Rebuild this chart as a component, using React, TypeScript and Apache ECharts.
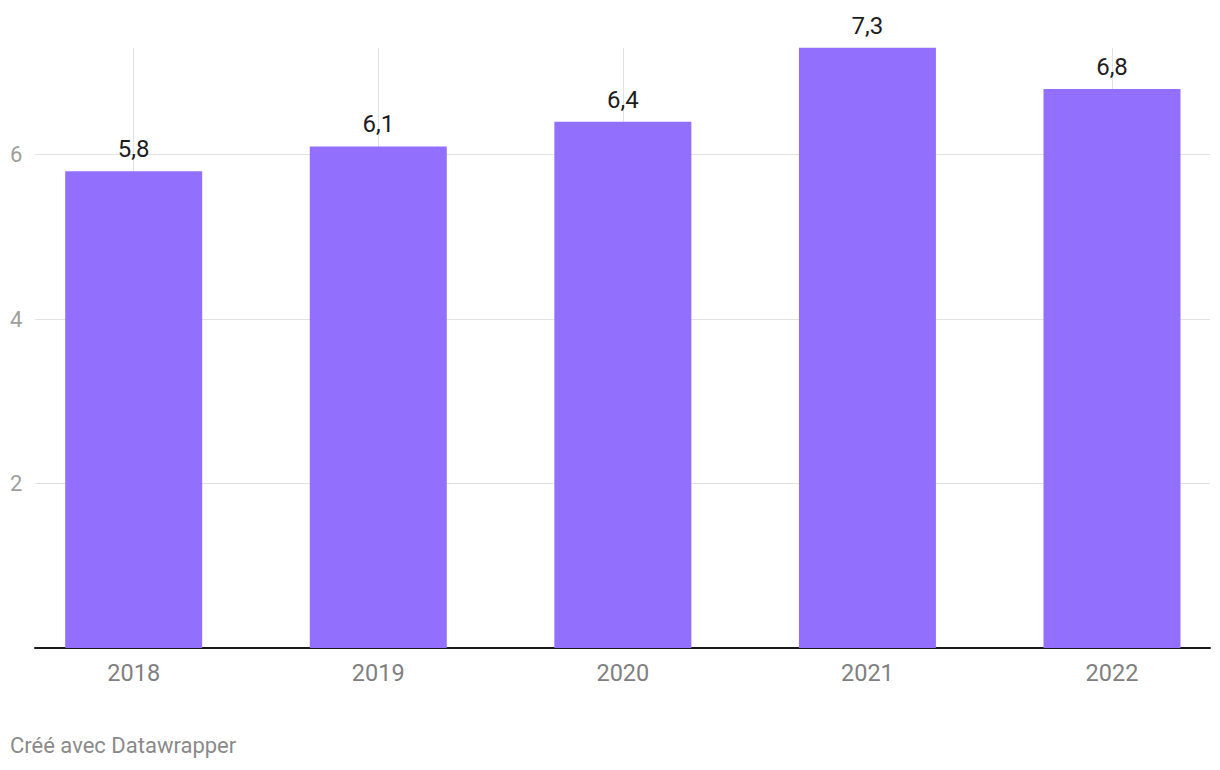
import React, { useEffect, useRef } from "react";
import * as echarts from "echarts";

const categories = ["2018", "2019", "2020", "2021", "2022"];
const values = [5.8, 6.1, 6.4, 7.3, 6.8];
const yTicks = [2, 4, 6];
const footer = "Créé avec Datawrapper";

const FONT = "Roboto, 'Noto Sans', sans-serif";

export default function App() {
  const ref = useRef<HTMLDivElement>(null);
  useEffect(() => {
    if (!ref.current) return;
    const chart = echarts.init(ref.current, undefined, { renderer: "svg" });
    const yMax = 7.3;
    const bottom = 122;
    const top0 = 47.8;
    chart.setOption({
      animation: false,
      backgroundColor: "#ffffff",
      textStyle: { fontFamily: FONT },
      grid: [
        { left: 133.7, right: 1220 - 1112, top: top0, bottom, containLabel: false },
        { left: 35, right: 10, top: top0, bottom, containLabel: false },
      ],
      xAxis: [
        {
          type: "category",
          gridIndex: 0,
          data: categories,
          boundaryGap: false,
          axisLine: { show: false },
          axisTick: { show: false },
          axisLabel: { color: "#808080", fontSize: 23.5, margin: 13, fontFamily: FONT },
          splitLine: { show: true, lineStyle: { color: "#e2e2e2", width: 1 } },
          z: 0,
        },
        {
          type: "value",
          gridIndex: 1,
          min: 0,
          max: 1,
          axisLine: { show: true, onZero: false, lineStyle: { color: "#1a1a1a", width: 2 } },
          axisTick: { show: false },
          axisLabel: { show: false },
          splitLine: { show: false },
        },
      ],
      yAxis: [
        {
          type: "value",
          gridIndex: 0,
          min: 0,
          max: yMax,
          show: false,
          splitLine: { show: false },
        },
        {
          type: "value",
          gridIndex: 1,
          min: 0,
          max: yMax,
          interval: 2,
          axisLine: { show: false },
          axisTick: { show: false },
          axisLabel: {
            color: "#9e9e9e",
            fontSize: 22,
            align: "left",
            margin: 25,
            fontFamily: FONT,
            showMaxLabel: false,
            formatter: (v: number) => (yTicks.includes(v) ? String(v) : ""),
          },
          splitLine: {
            show: true,
            showMinLine: false,
            showMaxLine: false,
            lineStyle: { color: "#e2e2e2", width: 1 },
          },
        },
      ],
      series: [
        {
          type: "bar",
          xAxisIndex: 0,
          yAxisIndex: 0,
          data: values,
          barWidth: 137,
          clip: false,
          itemStyle: { color: "#936FFD" },
          z: 2,
          label: {
            show: true,
            position: "top",
            distance: 10,
            color: "#1d1d1d",
            fontSize: 24,
            fontFamily: FONT,
            formatter: (p: any) => String(p.value).replace(".", ","),
          },
        },
      ],
      graphic: [
        {
          type: "text",
          left: 10,
          top: 734,
          style: { text: footer, fill: "#8a8a8a", fontSize: 22, fontFamily: FONT },
        },
      ],
    });
    return () => chart.dispose();
  }, []);
  return <div ref={ref} style={{ width: 1220, height: 770, position: "absolute", left: 0, top: 0 }} />;
}
